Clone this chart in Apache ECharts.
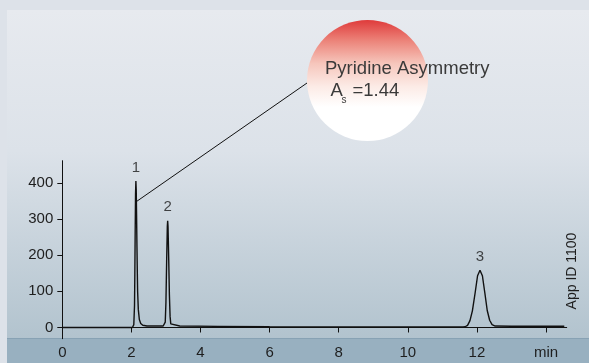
<!DOCTYPE html>
<html>
<head>
<meta charset="utf-8">
<script src="https://cdn.jsdelivr.net/npm/echarts@6/dist/echarts.min.js"></script>
<style>
  html, body { margin: 0; padding: 0; background: #dde2e9; }
  #chart { width: 589px; height: 363px; }
</style>
</head>
<body>
<div id="chart"></div>
<script>
// Chromatogram trace: retention time (min) and detector signal
const timeMin = [
  0, 1.5, 2.03, 2.07, 2.09, 2.10, 2.11, 2.12, 2.13, 2.14, 2.15, 2.16, 2.17, 2.18, 2.20, 2.23, 2.27, 2.33, 2.45, 2.70,
  2.92, 2.95, 2.98, 3.00, 3.02, 3.04, 3.05, 3.06, 3.08, 3.10, 3.12, 3.14, 3.18, 3.40, 4.50, 6.00, 9.00,
  11.60, 11.66, 11.73, 11.80, 11.87, 11.95, 12.02, 12.09, 12.16, 12.23, 12.30, 12.37, 12.44, 12.53, 13.00, 14.53
];
const signal = [
  0, 0, 0, 8, 60, 150, 270, 370, 405, 380, 310, 230, 160, 100, 50, 22, 11, 6, 4, 4,
  4, 5, 15, 70, 180, 280, 295, 280, 190, 90, 30, 10, 5, 4, 3, 2, 1.5,
  1.5, 2, 6, 19, 46, 96, 143, 158, 143, 96, 47, 20, 8, 4, 3.5, 3.5
];

// Peak numbering
const peakNames = ['1', '2', '3'];
const peakTimes = [2.13, 3.05, 12.09];
const peakHeights = [405, 295, 158];

// Axis ticks
const xTickValues = [0, 2, 4, 6, 8, 10, 12, 14];
const xTickLabels = ['0', '2', '4', '6', '8', '10', '12', 'min'];
const yTickValues = [0, 100, 200, 300, 400];

// Asymmetry callout anchored on peak 1
const calloutAnchor = [2.13, 347];
const calloutTitle = 'Pyridine Asymmetry';
const calloutValue = '=1.44';

const FONT = "'Liberation Sans', Arial, Helvetica, sans-serif";

const traceData = timeMin.map((t, i) => [t, signal[i]]);
const peakData = peakTimes.map((t, i) => ({ value: [t, peakHeights[i]], name: peakNames[i] }));

const chart = echarts.init(document.getElementById('chart'), null, { renderer: 'canvas' });

chart.setOption({
  animation: false,
  backgroundColor: '#dde2e9',
  grid: { left: 62.3, right: 22.3, top: 160.7, bottom: 24.3 },
  xAxis: {
    type: 'value',
    min: 0,
    max: 14.6,
    axisLine: { lineStyle: { color: '#111', width: 1 } },
    axisTick: { show: true, length: 5, customValues: xTickValues, lineStyle: { color: '#111' } },
    axisLabel: {
      customValues: xTickValues,
      formatter: v => xTickLabels[xTickValues.indexOf(v)],
      fontFamily: FONT, fontSize: 15, color: '#1e1e1e', margin: 7
    },
    splitLine: { show: false }
  },
  yAxis: {
    type: 'value',
    min: -31,
    max: 461,
    axisLine: { show: true, lineStyle: { color: '#111', width: 1 } },
    axisTick: { show: true, length: 5, customValues: yTickValues, lineStyle: { color: '#111' } },
    axisLabel: {
      customValues: yTickValues,
      fontFamily: FONT, fontSize: 15, color: '#1e1e1e', margin: 9
    },
    splitLine: { show: false }
  },
  graphic: [
    // inner panel with vertical gradient
    {
      type: 'rect', z: -100, silent: true,
      shape: { x: 7, y: 10, width: 582, height: 353 },
      style: {
        fill: new echarts.graphic.LinearGradient(0, 0, 0, 1, [
          { offset: 0, color: '#e7eaef' },
          { offset: 0.4, color: '#dce2e9' },
          { offset: 0.93, color: '#b2c3ce' },
          { offset: 1, color: '#afc0cc' }
        ])
      }
    },
    // lower band under the time axis
    {
      type: 'rect', z: -99, silent: true,
      shape: { x: 7, y: 338.5, width: 582, height: 25 },
      style: { fill: '#98b0c0' }
    },
    {
      type: 'line', z: -98, silent: true,
      shape: { x1: 7, y1: 338.5, x2: 589, y2: 338.5 },
      style: { stroke: '#88a2b4', lineWidth: 1 }
    },
    // callout bubble
    {
      type: 'circle', z: 50, silent: true,
      shape: { cx: 367.5, cy: 80.5, r: 60.5 },
      style: {
        fill: new echarts.graphic.LinearGradient(0, 0, 0, 1, [
          { offset: 0, color: '#df3b3b' },
          { offset: 0.17, color: '#ec8379' },
          { offset: 0.36, color: '#f6c6bc' },
          { offset: 0.55, color: '#fcebe6' },
          { offset: 0.72, color: '#ffffff' },
          { offset: 1, color: '#ffffff' }
        ])
      }
    },
    {
      type: 'text', z: 60, silent: true,
      x: 325, y: 69,
      style: { text: calloutTitle, font: '18.5px ' + FONT, fill: '#3a3a3a', verticalAlign: 'middle' }
    },
    {
      type: 'text', z: 60, silent: true,
      x: 330.5, y: 91.3,
      style: { text: 'A', font: '18.5px ' + FONT, fill: '#3a3a3a', verticalAlign: 'middle' }
    },
    {
      type: 'text', z: 60, silent: true,
      x: 341.5, y: 100.5,
      style: { text: 's', font: '10px ' + FONT, fill: '#3a3a3a', verticalAlign: 'middle' }
    },
    {
      type: 'text', z: 60, silent: true,
      x: 352.5, y: 91.3,
      style: { text: calloutValue, font: '18.5px ' + FONT, fill: '#3a3a3a', verticalAlign: 'middle' }
    },
    // application id, vertical
    {
      type: 'text', z: 60, silent: true,
      x: 572, y: 271, rotation: Math.PI / 2,
      style: { text: 'App ID 1100', font: '14px ' + FONT, fill: '#1e1e1e', align: 'center', verticalAlign: 'middle' }
    }
  ],
  series: [
    {
      type: 'line',
      data: traceData,
      showSymbol: false,
      smooth: false,
      lineStyle: { color: '#111', width: 1.4 },
      z: 3,
      markLine: {
        silent: true,
        symbol: ['none', 'none'],
        label: { show: false },
        lineStyle: { color: '#111', width: 1, type: 'solid' },
        data: [[{ coord: calloutAnchor }, { x: 307, y: 83 }]]
      }
    },
    {
      type: 'scatter',
      data: peakData,
      symbolSize: 0,
      label: {
        show: true,
        position: 'top',
        distance: 6,
        formatter: p => p.name,
        fontFamily: FONT, fontSize: 15, color: '#1a1a1a'
      },
      z: 4
    }
  ]
});
</script>
</body>
</html>
